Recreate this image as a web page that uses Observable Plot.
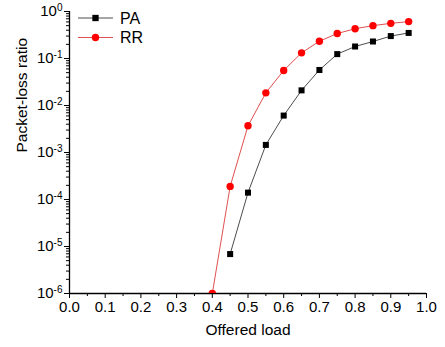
<!DOCTYPE html>
<html>
<head>
<meta charset="utf-8">
<script src="https://cdn.jsdelivr.net/npm/d3@7"></script>
<script src="https://cdn.jsdelivr.net/npm/@observablehq/plot@0.6"></script>
<style>
  html, body { margin: 0; padding: 0; background: #fff; }
  #chart { width: 445px; height: 347px; }
  svg { font-family: "Liberation Sans", Arial, sans-serif; }
</style>
</head>
<body>
<div id="chart"></div>
<script>
// ---- data ----
const offeredLoad = [0.40, 0.45, 0.50, 0.55, 0.60, 0.65, 0.70, 0.75, 0.80, 0.85, 0.90, 0.95];
const paValues = [null, 6.9e-6, 1.4e-4, 1.45e-3, 6.1e-3, 0.021, 0.057, 0.124, 0.18, 0.23, 0.30, 0.35];
const rrValues = [1e-6, 1.9e-4, 3.7e-3, 0.0186, 0.0556, 0.132, 0.233, 0.34, 0.43, 0.50, 0.56, 0.61];
const seriesNames = ["PA", "RR"];
const xTicks = [0, 0.1, 0.2, 0.3, 0.4, 0.5, 0.6, 0.7, 0.8, 0.9, 1.0];
const yExponents = [-6, -5, -4, -3, -2, -1, 0];
const xLabel = "Offered load";
const yLabel = "Packet-loss ratio";

const pa = offeredLoad.map((x, i) => ({x, y: paValues[i]})).filter(d => d.y != null);
const rr = offeredLoad.map((x, i) => ({x, y: rrValues[i]})).filter(d => d.y != null);

const yTicks = yExponents.map(e => Math.pow(10, e));
const yMinor = [];
for (let e = -6; e < 0; e++) for (let k = 2; k <= 9; k++) yMinor.push(k * Math.pow(10, e));
const xMinor = d3.range(0.05, 1.0, 0.1);

const lineColorPA = "#4d4d4d";
const lineColorRR = "#e0504f";

const chart = Plot.plot({
  width: 445,
  height: 347,
  marginLeft: 69,
  marginRight: 19,
  marginTop: 11,
  marginBottom: 54,
  style: {fontFamily: '"Liberation Sans", Arial, sans-serif', fontSize: "15px", color: "#000", background: "#fff"},
  x: {domain: [0, 1.0]},
  y: {type: "log", domain: [1e-6, 1]},
  marks: [
    Plot.axisX({ticks: xTicks, tickSize: 5, tickPadding: 3, tickFormat: d => "x|" + d3.format(".1f")(d), label: null}),
    Plot.axisX({ticks: xMinor, tickSize: 3, tickFormat: () => "", label: null}),
    Plot.axisY({ticks: yTicks, tickSize: 5, tickPadding: 2, tickFormat: d => "10|" + Math.round(Math.log10(d)), label: null}),
    Plot.axisY({ticks: yMinor, tickSize: 3, tickFormat: () => "", label: null}),
    Plot.ruleX([0], {stroke: "#000", strokeWidth: 1.3}),
    Plot.ruleY([1e-6], {stroke: "#000", strokeWidth: 1.3}),
    Plot.line(pa, {x: "x", y: "y", stroke: lineColorPA, strokeWidth: 1}),
    Plot.line(rr, {x: "x", y: "y", stroke: lineColorRR, strokeWidth: 1, clip: true}),
    Plot.dot(pa, {x: "x", y: "y", symbol: "square", r: 3.4, fill: "#000", stroke: "none", clip: true}),
    Plot.dot(rr, {x: "x", y: "y", symbol: "circle", r: 3.7, fill: "#ff0000", stroke: "none", clip: true}),
    Plot.text([yLabel], {frameAnchor: "left", rotate: -90, dx: -47, fontSize: 15.5, fill: "#000"}),
    Plot.text([xLabel], {frameAnchor: "bottom", dy: 41, fontSize: 15.5, fill: "#000"})
  ]
});

document.getElementById("chart").appendChild(chart);

const svg = d3.select(chart);
svg.selectAll("text").each(function() {
  const t = d3.select(this);
  const s = t.text();
  if (/^10\|-?\d+$/.test(s)) {
    const exp = s.split("|")[1];
    t.text("10").attr("font-size", 15);
    t.append("tspan").attr("dy", "-0.55em").attr("font-size", "10px").text(exp);
  } else if (/^x\|/.test(s)) {
    t.text(s.slice(2)).attr("font-size", 15);
  }
});

// legend (inside plot, top-left)
const legendItems = [
  {name: seriesNames[0], line: lineColorPA, fill: "#000", symbol: d3.symbolSquare, size: 40},
  {name: seriesNames[1], line: lineColorRR, fill: "#ff0000", symbol: d3.symbolCircle, size: 43}
];
const lg = svg.append("g").attr("transform", "translate(78,18)");
legendItems.forEach((d, i) => {
  const g = lg.append("g").attr("transform", `translate(0,${i * 19.5})`);
  g.append("line").attr("x1", 0).attr("x2", 35).attr("y1", 0).attr("y2", 0).attr("stroke", d.line).attr("stroke-width", 1);
  g.append("path").attr("d", d3.symbol(d.symbol, d.size)()).attr("transform", "translate(17.5,0)").attr("fill", d.fill);
  g.append("text").attr("x", 42).attr("y", 0).attr("dy", "0.36em").attr("text-anchor", "start").attr("font-size", 16).attr("fill", "#000").text(d.name);
});
</script>
</body>
</html>
